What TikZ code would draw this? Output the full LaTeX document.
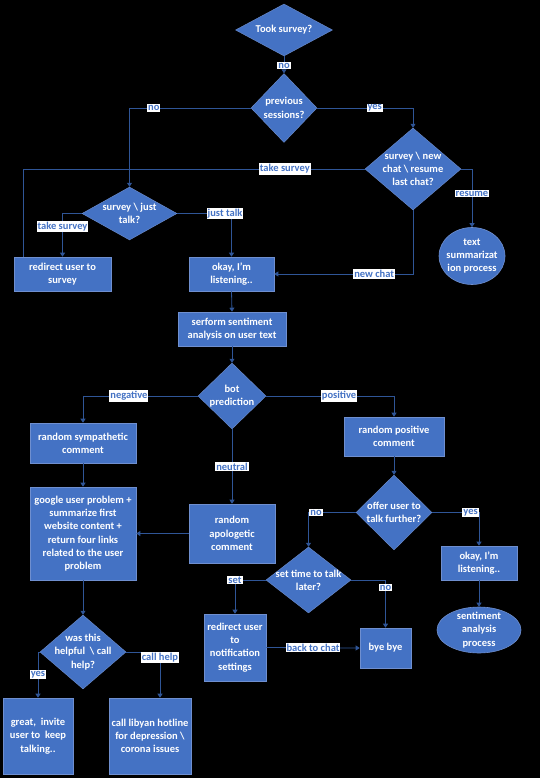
\documentclass[tikz,border=0pt]{standalone}
\usepackage{fontspec}
\setmainfont{Carlito}
\usetikzlibrary{shapes.geometric,arrows.meta}
\definecolor{boxblue}{HTML}{4472C4}
\definecolor{edgeblue}{HTML}{6F8FCF}
\definecolor{lineblue}{HTML}{2F5597}
\begin{document}
\begin{tikzpicture}[x=1pt,y=-1pt,
 font=\bfseries\fontsize{10.5}{13.3}\selectfont,
 sz/.style 2 args={minimum width=#1pt, minimum height=#2pt},
 boxnode/.style={rectangle, fill=boxblue, draw=edgeblue, line width=0.6pt, text=white, align=center, inner sep=1pt},
 dianode/.style={diamond, fill=boxblue, draw=edgeblue, line width=0.4pt, inner sep=0pt},
 ellnode/.style={ellipse, fill=boxblue, draw=edgeblue, line width=0.6pt, inner sep=0pt},
 txtnode/.style={text=white, align=center, inner sep=0pt},
 conn/.style={draw=lineblue, line width=0.8pt, -{Triangle[width=5pt,length=4pt]}},
 plainconn/.style={draw=lineblue, line width=0.8pt},
 lbl/.style={fill=white, text=boxblue, inner sep=1pt, font=\bfseries\fontsize{10.5}{12}\selectfont}
]
\fill[black] (0,0) rectangle (540,778);
\useasboundingbox (0,0) rectangle (540,778);

% diamonds
\node[dianode, sz={97}{52}] (d1) at (284,30) {};
\node[txtnode] (d1t) at (d1) {Took survey?};
\node[dianode, sz={66}{69}] (d2) at (284,108) {};
\node[txtnode] (d2t) at (d2) {previous\\sessions?};
\node[dianode, sz={96}{82}] (d3) at (413,169) {};
\node[txtnode] (d3t) at (d3) {survey \textbackslash{} new\\chat \textbackslash{} resume\\last chat?};
\node[dianode, sz={95}{53}] (d4) at (129.5,213.5) {};
\node[txtnode] (d4t) at (d4) {survey \textbackslash{} just\\talk?};
\node[dianode, sz={68}{66}] (d5) at (232,396) {};
\node[txtnode] (d5t) at (d5) {bot\\prediction};
\node[dianode, sz={76}{75}] (d6) at (394,512.5) {};
\node[txtnode] (d6t) at (d6) {offer user to\\talk further?};
\node[dianode, sz={85}{66}] (d7) at (308.5,580) {};
\node[txtnode] (d7t) at (d7) {set time to talk\\later?};
\node[dianode, sz={86}{74}] (d8) at (83,652) {};
\node[txtnode] (d8t) at (d8) {was this\\helpful \ \textbackslash{} call\\help?};

% ellipses
\node[ellnode, sz={66}{57}] (e1) at (472,256) {};
\node[txtnode] (e1t) at (e1) {text\\summarizat\\ion process};
\node[ellnode, sz={84}{46}] (e2) at (479,630) {};
\node[txtnode] (e2t) at (e2) {sentiment\\analysis\\process};

% boxes
\node[boxnode, sz={97}{34}] (b1) at (62.5,274) {redirect user to\\survey};
\node[boxnode, sz={85}{34}] (b2) at (231.5,274) {okay, I'm\\listening..};
\node[boxnode, sz={108}{34}] (b3) at (232,329) {serform sentiment\\analysis on user text};
\node[boxnode, sz={106}{40}] (b4) at (83,443) {random sympathetic\\comment};
\node[boxnode, sz={100}{39}] (b5) at (394,436.5) {random positive\\comment};
\node[boxnode, sz={86}{59}] (b6) at (232,533.5) {random\\apologetic\\comment};
\node[boxnode, sz={106}{93}] (b7) at (83,533.5) {google user problem +\\summarize first\\website content +\\return four links\\related to the user\\problem};
\node[boxnode, sz={76}{34}] (b8) at (479,563) {okay, I'm\\listening..};
\node[boxnode, sz={62}{67}] (b9) at (235,647.5) {redirect user\\to\\notification\\settings};
\node[boxnode, sz={51}{40}] (b10) at (385.5,648) {bye bye};
\node[boxnode, sz={70}{76}] (b11) at (38,736) {great,\ \ invite\\user to\ \ keep\\talking..};
\node[boxnode, sz={82}{76}] (b12) at (150,736) {call libyan hotline\\for depression \textbackslash\\corona issues};

% connectors
\draw[conn] (d1.south) -- node[lbl,pos=0.55] (l1) {no} (d2.north);
\draw[conn] (d2.west) -| node[lbl,pos=0.40] (l2) {no} (d4.north);
\draw[conn] (d2.east) -| node[lbl,pos=0.30] (l3) {yes} (d3.north);
\draw[plainconn] (d3.west) -| node[lbl,pos=0.117] (l4) {take survey} ([xshift=-39.5pt]b1.north);
\draw[conn] (d3.east) -| node[lbl,pos=0.71] (l5) {resume} (e1.north);
\draw[conn] (d4.west) -| node[lbl,pos=0.65] (l6) {take survey} (b1.north);
\draw[conn] (d4.east) -| node[lbl,pos=0.44] (l7) {just talk} (b2.north);
\draw[conn] (d3.south) |- node[lbl,pos=0.64] (l8) {new chat} (b2.east);
\draw[conn] (b2.south) -- (b3.north);
\draw[conn] (b3.south) -- (d5.north);
\draw[conn] (d5.west) -| node[lbl,pos=0.30] (l9) {negative} (b4.north);
\draw[conn] (d5.east) -| node[lbl,pos=0.285] (l10) {positive} (b5.north);
\draw[conn] (d5.south) -- node[lbl,pos=0.5] (l11) {neutral} (b6.north);
\draw[conn] (b4.south) -- (b7.north);
\draw[conn] (b6.west) -- (b7.east);
\draw[conn] (b5.south) -- (d6.north);
\draw[conn] (d6.west) -| node[lbl,pos=0.42] (l12) {no} (d7.north);
\draw[conn] (d6.east) -| node[lbl,pos=0.41] (l13) {yes} (b8.north);
\draw[conn] (d7.west) -| node[lbl,pos=0.5] (l14) {set} (b9.north);
\draw[conn] (d7.east) -| node[lbl,pos=0.58] (l15) {no} (b10.north);
\draw[conn] (b8.south) -- (e2.north);
\draw[conn] (b7.south) -- (d8.north);
\draw[conn] (d8.west) -| node[lbl,pos=0.75] (l16) {yes} (b11.north);
\draw[conn] (d8.east) -| node[lbl,pos=0.565] (l17) {call help} ([xshift=10pt]b12.north);
\draw[conn] (b9.east) -- node[lbl,pos=0.5] (l18) {back to chat} (b10.west);
\end{tikzpicture}
\end{document}
